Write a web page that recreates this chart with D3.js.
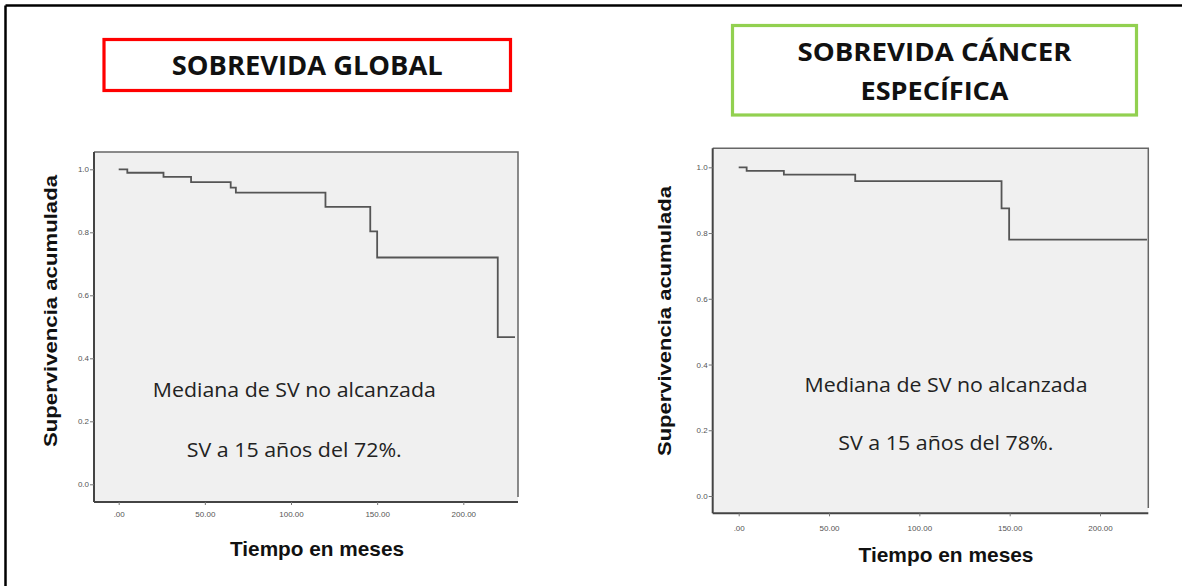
<!DOCTYPE html>
<html>
<head>
<meta charset="utf-8">
<script src="https://cdn.jsdelivr.net/npm/d3@7"></script>
<style>
  html, body { margin: 0; padding: 0; background: #fff; }
  svg { display: block; }
</style>
</head>
<body>
<svg id="fig" width="1182" height="586"></svg>
<script>
// Kaplan–Meier step data (months, cumulative survival)
const globalTimes = [0, 5, 26, 42, 65, 68, 120, 146, 150, 220];
const globalSurv  = [1.0, 0.989, 0.976, 0.959, 0.942, 0.926, 0.881, 0.803, 0.72, 0.467];
const globalEnd   = 230;

const cancerTimes = [0, 4.4, 25, 64.5, 145.5, 149.7];
const cancerSurv  = [1.0, 0.989, 0.978, 0.958, 0.875, 0.78];
const cancerEnd   = 226;

// Axis ticks and labels
const xTickValues = [0, 50, 100, 150, 200];
const xTickLabels = [".00", "50.00", "100.00", "150.00", "200.00"];
const yTickValues = [0, 0.2, 0.4, 0.6, 0.8, 1.0];
const yTickLabels = ["0.0", "0.2", "0.4", "0.6", "0.8", "1.0"];

// Text
const panelTitles = [["SOBREVIDA GLOBAL"], ["SOBREVIDA CÁNCER", "ESPECÍFICA"]];
const medianNote  = "Mediana de SV no alcanzada";
const survNotes   = ["SV a 15 años del 72%.", "SV a 15 años del 78%."];
const yTitle = "Supervivencia acumulada";
const xTitle = "Tiempo en meses";

const svg = d3.select("#fig");

// outer frame (top and left edges)
svg.append("line").attr("x1", 5.5).attr("y1", 5.5).attr("x2", 1182).attr("y2", 5.5)
  .attr("stroke", "#000").attr("stroke-width", 2.5);
svg.append("line").attr("x1", 5.5).attr("y1", 5.5).attr("x2", 5.5).attr("y2", 586)
  .attr("stroke", "#000").attr("stroke-width", 2.5);

const panels = [
  {
    times: globalTimes, surv: globalSurv, end: globalEnd, note: survNotes[0], title: panelTitles[0],
    box: { l: 94, r: 518, t: 152, b: 502 }, rightStop: 497,
    x0: 118.7, x200: 463.3, y0: 484.3, y1: 169.3,
    titleBox: { x: 104, y: 39.5, w: 406.5, h: 51, color: "#ff0000", size: 27, lines: [{ y: 75, len: 271 }] },
    note1: { x: 294.3, y: 397.3 }, note2: { x: 294.2, y: 456.7 },
    yTitle: { x: 57, y: 311, len: 272 }, xTitle: { x: 317, y: 556, len: 174 },
    tickLabelY: 517
  },
  {
    times: cancerTimes, surv: cancerSurv, end: cancerEnd, note: survNotes[1], title: panelTitles[1],
    box: { l: 712.7, r: 1148.3, t: 148.3, b: 513.3 }, rightStop: 508,
    x0: 738.7, x200: 1100, y0: 496, y1: 167.3,
    titleBox: { x: 732.5, y: 25.5, w: 404, h: 89.5, color: "#92d050", size: 25.5, lines: [{ y: 61.3, len: 274 }, { y: 99.7, len: 148 }] },
    note1: { x: 946, y: 391.7 }, note2: { x: 945.8, y: 450 },
    yTitle: { x: 671, y: 321, len: 270 }, xTitle: { x: 946, y: 561.5, len: 175 },
    tickLabelY: 531
  }
];

panels.forEach(p => {
  const x = d3.scaleLinear().domain([0, 200]).range([p.x0, p.x200]);
  const y = d3.scaleLinear().domain([0, 1]).range([p.y0, p.y1]);
  const g = svg.append("g");

  // header box
  const tb = p.titleBox;
  g.append("rect").attr("x", tb.x).attr("y", tb.y).attr("width", tb.w).attr("height", tb.h)
    .attr("fill", "#fff").attr("stroke", tb.color).attr("stroke-width", 3.2);
  p.title.forEach((line, i) => {
    g.append("text").attr("x", tb.x + tb.w / 2).attr("y", tb.lines[i].y)
      .attr("text-anchor", "middle")
      .attr("textLength", tb.lines[i].len).attr("lengthAdjust", "spacingAndGlyphs")
      .style("font-family", "'Open Sans', sans-serif").style("font-weight", 700)
      .style("font-size", tb.size + "px").attr("fill", "#111").text(line);
  });

  // plot background
  const b = p.box;
  g.append("rect").attr("x", b.l).attr("y", b.t).attr("width", b.r - b.l).attr("height", b.b - b.t)
    .attr("fill", "#f0f0f0");
  // top and right frame
  g.append("path").attr("d", `M${b.l},${b.t}H${b.r}V${p.rightStop}`)
    .attr("fill", "none").attr("stroke", "#666").attr("stroke-width", 1.5);

  // axes
  const yAxis = d3.axisLeft(y).tickValues(yTickValues)
    .tickFormat((d, i) => yTickLabels[i]).tickSize(4).tickPadding(1);
  const ya = g.append("g").attr("transform", `translate(${b.l},0)`).call(yAxis);
  ya.select(".domain").attr("d", `M0,${b.t}V${b.b}`).attr("stroke", "#444").attr("stroke-width", 2);

  const xAxis = d3.axisBottom(x).tickValues(xTickValues)
    .tickFormat((d, i) => xTickLabels[i]).tickSize(3).tickPadding(0);
  const xa = g.append("g").attr("transform", `translate(0,${b.b})`).call(xAxis);
  xa.select(".domain").attr("d", `M${b.l},0H${b.r}`).attr("stroke", "#444").attr("stroke-width", 2);
  xa.selectAll(".tick text").attr("y", p.tickLabelY - b.b).attr("dy", 0);

  [ya, xa].forEach(a => {
    a.selectAll(".tick line").attr("stroke", "#777");
    a.selectAll(".tick text").attr("fill", "#555")
      .style("font-family", "'Liberation Sans', Arial, sans-serif").style("font-size", "8px");
  });

  // survival curve
  const pts = p.times.map((t, i) => [t, p.surv[i]]);
  pts.push([p.end, p.surv[p.surv.length - 1]]);
  const line = d3.line().x(d => x(d[0])).y(d => y(d[1])).curve(d3.curveStepAfter);
  g.append("path").datum(pts).attr("d", line)
    .attr("fill", "none").attr("stroke", "#555").attr("stroke-width", 1.8);

  // annotations
  g.append("text").attr("x", p.note1.x).attr("y", p.note1.y).attr("text-anchor", "middle")
    .attr("textLength", 283).attr("lengthAdjust", "spacingAndGlyphs")
    .style("font-family", "'Open Sans', sans-serif").style("font-size", "20px")
    .attr("fill", "#222").text(medianNote);
  g.append("text").attr("x", p.note2.x).attr("y", p.note2.y).attr("text-anchor", "middle")
    .attr("textLength", 215).attr("lengthAdjust", "spacingAndGlyphs")
    .style("font-family", "'Open Sans', sans-serif").style("font-size", "20px")
    .attr("fill", "#222").text(p.note);

  // axis titles
  g.append("text")
    .attr("transform", `translate(${p.yTitle.x},${p.yTitle.y}) rotate(-90)`)
    .attr("text-anchor", "middle")
    .attr("textLength", p.yTitle.len).attr("lengthAdjust", "spacingAndGlyphs")
    .style("font-family", "'Liberation Sans', Arial, sans-serif").style("font-weight", 700)
    .style("font-size", "18px").attr("fill", "#111").text(yTitle);
  g.append("text").attr("x", p.xTitle.x).attr("y", p.xTitle.y).attr("text-anchor", "middle")
    .attr("textLength", p.xTitle.len).attr("lengthAdjust", "spacingAndGlyphs")
    .style("font-family", "'Liberation Sans', Arial, sans-serif").style("font-weight", 700)
    .style("font-size", "21px").attr("fill", "#111").text(xTitle);
});
</script>
</body>
</html>
